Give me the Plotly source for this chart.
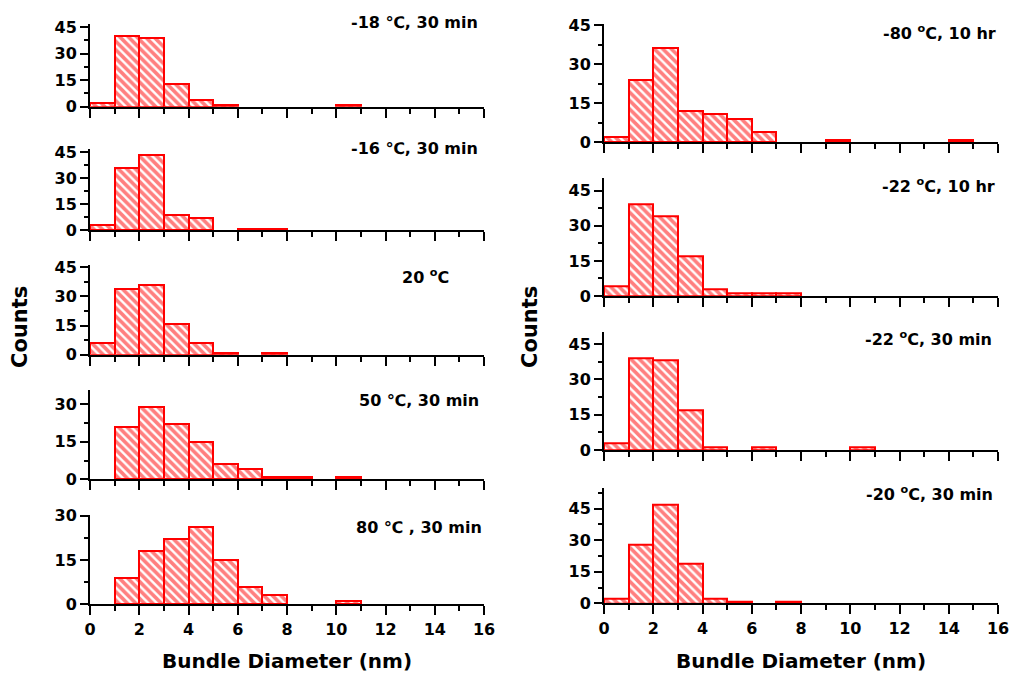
import plotly.graph_objects as go

W, H = 1013, 675

# bin left edges (nm); each bin is 1 nm wide
bin_left = list(range(16))
x_ticks = [0, 2, 4, 6, 8, 10, 12, 14, 16]

# counts per bin (0-1, 1-2, ..., 15-16)
c_m18_30min = [2, 40, 39, 13, 4, 1, 0, 0, 0, 0, 1, 0, 0, 0, 0, 0]
c_m16_30min = [3, 36, 43, 9, 7, 0, 1, 1, 0, 0, 0, 0, 0, 0, 0, 0]
c_20 = [6, 34, 36, 16, 6, 1, 0, 1, 0, 0, 0, 0, 0, 0, 0, 0]
c_50_30min = [0, 21, 29, 22, 15, 6, 4, 1, 1, 0, 1, 0, 0, 0, 0, 0]
c_80_30min = [0, 9, 18, 22, 26, 15, 6, 3, 0, 0, 1, 0, 0, 0, 0, 0]
c_m80_10hr = [2, 24, 36, 12, 11, 9, 4, 0, 0, 1, 0, 0, 0, 0, 1, 0]
c_m22_10hr = [4, 39, 34, 17, 3, 1, 1, 1, 0, 0, 0, 0, 0, 0, 0, 0]
c_m22_30min = [3, 39, 38, 17, 1, 0, 1, 0, 0, 0, 1, 0, 0, 0, 0, 0]
c_m20_30min = [2, 28, 47, 19, 2, 1, 0, 1, 0, 0, 0, 0, 0, 0, 0, 0]

labels = ["-18 \u2103, 30 min", "-16 \u2103, 30 min", "20 <sup>o</sup>C",
          "50 \u2103, 30 min", "80 \u2103 , 30 min",
          "-80 <sup>o</sup>C, 10 hr", "-22 <sup>o</sup>C, 10 hr",
          "-22 <sup>o</sup>C, 30 min", "-20 <sup>o</sup>C, 30 min"]
series = [c_m18_30min, c_m16_30min, c_20, c_50_30min, c_80_30min,
          c_m80_10hr, c_m22_10hr, c_m22_30min, c_m20_30min]

# layout geometry (pixels): x0,x1 of plot, top, bottom, ymax, label anchor
panels = [
    dict(x0=90, x1=484, top=24, bot=106.7, ymax=46.7, lx=480, ly=23, la="right"),
    dict(x0=90, x1=484, top=149, bot=230.3, ymax=46.7, lx=480, ly=148, la="right"),
    dict(x0=90, x1=484, top=265, bot=354.7, ymax=46.2, lx=425, ly=276, la="center"),
    dict(x0=90, x1=484, top=390, bot=479.3, ymax=35.8, lx=481, ly=400, la="right"),
    dict(x0=90, x1=484, top=515, bot=604.3, ymax=30.2, lx=484, ly=527, la="right"),
    dict(x0=604, x1=998, top=24, bot=142.3, ymax=45.4, lx=998, ly=33, la="right"),
    dict(x0=604, x1=998, top=178.3, bot=296, ymax=50.3, lx=997, ly=185, la="right"),
    dict(x0=604, x1=998, top=332.3, bot=450, ymax=50.0, lx=994, ly=338, la="right"),
    dict(x0=604, x1=998, top=487.7, bot=603.3, ymax=55.0, lx=995, ly=493, la="right"),
]
bottom_panels = {4, 8}

FONT = "DejaVu Sans, Liberation Sans, Arial, sans-serif"
fig = go.Figure()
layout = {}
annotations = []
for i, (p, vals, lab) in enumerate(zip(panels, series, labels)):
    n = i + 1
    xa = "xaxis" if n == 1 else f"xaxis{n}"
    ya = "yaxis" if n == 1 else f"yaxis{n}"
    xr = "x" if n == 1 else f"x{n}"
    yr = "y" if n == 1 else f"y{n}"
    fig.add_trace(go.Bar(
        x=[b + 0.5 for b in bin_left],
        y=[v if v > 0 else None for v in vals],
        width=1,
        xaxis=xr, yaxis=yr,
        marker=dict(color="white",
                    line=dict(color="#ff0000", width=2),
                    pattern=dict(shape="\\", fgcolor="#ff0000", bgcolor="white",
                                 size=6, solidity=0.6, fillmode="overlay")),
        showlegend=False,
    ))
    layout[xa] = dict(
        domain=[p["x0"] / W, p["x1"] / W], range=[0, 16], anchor=yr,
        tickvals=x_ticks, showticklabels=(i in bottom_panels),
        ticks="outside", ticklen=9, tickwidth=2, tickcolor="black",
        minor=dict(dtick=1, tick0=0, ticks="outside", ticklen=5, tickwidth=2, tickcolor="black"),
        showline=True, linecolor="black", linewidth=2, showgrid=False, zeroline=False,
        tickfont=dict(family=FONT, size=16, color="black", weight="bold"),
        layer="above traces", fixedrange=True, automargin=False,
    )
    yt = [t for t in [0, 15, 30, 45] if t <= p["ymax"] + 0.01]
    layout[ya] = dict(
        domain=[1 - p["bot"] / H, 1 - p["top"] / H], range=[0, p["ymax"]], anchor=xr,
        tickvals=yt, ticks="outside", ticklen=8, tickwidth=2, tickcolor="black",
        minor=dict(dtick=7.5, tick0=0, ticks="outside", ticklen=4, tickwidth=2, tickcolor="black"),
        showline=True, linecolor="black", linewidth=2, showgrid=False, zeroline=False,
        tickfont=dict(family=FONT, size=16, color="black", weight="bold"),
        layer="above traces", fixedrange=True, automargin=False,
    )
    annotations.append(dict(
        text=lab, x=p["lx"] / W, y=1 - p["ly"] / H, xref="paper", yref="paper",
        xanchor=p["la"], yanchor="middle", showarrow=False,
        font=dict(family=FONT, size=16, color="black", weight="bold"),
    ))

# axis titles
for cx in [287, 801]:
    annotations.append(dict(text="Bundle Diameter (nm)", x=cx / W, y=1 - 661 / H,
                            xref="paper", yref="paper", xanchor="center", yanchor="middle",
                            showarrow=False,
                            font=dict(family=FONT, size=20, color="black", weight="bold")))
for cx in [20, 530]:
    annotations.append(dict(text="Counts", x=cx / W, y=1 - 327 / H, textangle=-90,
                            xref="paper", yref="paper", xanchor="center", yanchor="middle",
                            showarrow=False,
                            font=dict(family=FONT, size=21, color="black", weight="bold")))

fig.update_layout(
    width=W, height=H, margin=dict(l=0, r=0, t=0, b=0, pad=0, autoexpand=False),
    paper_bgcolor="white", plot_bgcolor="white",
    annotations=annotations, bargap=0, **layout,
)
fig.write_html("out.html", config={"displayModeBar": False})
